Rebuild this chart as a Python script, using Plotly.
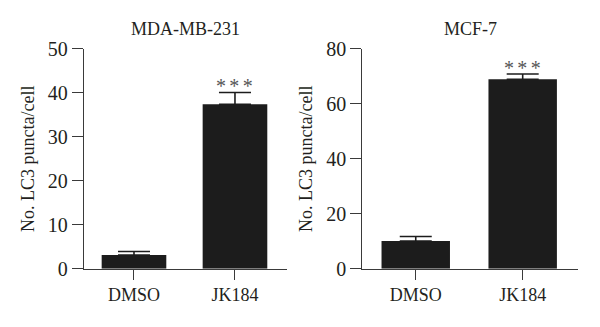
import plotly.graph_objects as go

categories = ["DMSO", "JK184"]
mda_values = [3.1, 37.4]
mda_errors = [0.8, 2.7]
mcf_values = [10.1, 69.0]
mcf_errors = [1.6, 1.9]
titles = ["MDA-MB-231", "MCF-7"]
y_title = "No. LC3 puncta/cell"
stars = "*\u2006*\u2006*"

FONT = "Liberation Serif"
TXT = "#231f20"
BAR = "#1c1c1c"

fig = go.Figure()

def add_panel(vals, errs, xa, ya):
    fig.add_trace(go.Bar(
        x=categories, y=vals, xaxis=xa, yaxis=ya, width=0.64,
        marker=dict(color=BAR, line=dict(width=0)),
        error_y=dict(type="data", array=errs, arrayminus=[0] * len(errs),
                     symmetric=False, color=BAR, thickness=1.6, width=16),
        showlegend=False,
    ))

add_panel(mda_values, mda_errors, "x", "y")
add_panel(mcf_values, mcf_errors, "x2", "y2")

ax_common = dict(showline=True, linecolor="#3a3a3a", linewidth=1.3, ticks="outside",
                 tickcolor="#3a3a3a", tickwidth=1.3, showgrid=False, zeroline=False,
                 automargin=False)
xfont = dict(family=FONT, size=18, color=TXT)
yfont = dict(family=FONT, size=20, color=TXT)

fig.update_layout(
    template="none",
    width=600, height=327, margin=dict(l=0, r=0, t=0, b=0),
    paper_bgcolor="white", plot_bgcolor="white",
    xaxis=dict(domain=[0.14, 0.4783], anchor="y", range=[-0.495, 1.515], ticklen=10,
               tickfont=xfont, **ax_common),
    yaxis=dict(domain=[0.1783, 0.8502], anchor="x", range=[0, 50], dtick=10, ticklen=11,
               tickfont=yfont,
               title=dict(text=y_title, font=dict(family=FONT, size=18, color=TXT), standoff=8),
               **ax_common),
    xaxis2=dict(domain=[0.6038, 0.9633], anchor="y2", range=[-0.5, 1.517], ticklen=10,
                tickfont=xfont, **ax_common),
    yaxis2=dict(domain=[0.1783, 0.8502], anchor="x2", range=[0, 80], dtick=20, ticklen=11,
                tickfont=yfont,
                title=dict(text=y_title, font=dict(family=FONT, size=18, color=TXT), standoff=8),
                **ax_common),
)

for t, xc in zip(titles, [0.309, 0.7836]):
    fig.add_annotation(text=t, x=xc, y=0.911, xref="paper", yref="paper",
                       xanchor="center", yanchor="middle", showarrow=False,
                       font=dict(family=FONT, size=18, color=TXT))

for xa, ya, vals, errs in [("x", "y", mda_values, mda_errors), ("x2", "y2", mcf_values, mcf_errors)]:
    fig.add_annotation(text=stars, x=categories[1], y=vals[1] + errs[1], xref=xa, yref=ya,
                       xanchor="center", yanchor="bottom", showarrow=False, yshift=-7,
                       font=dict(family=FONT, size=20, color="#555555"))

fig.write_html("out.html")
